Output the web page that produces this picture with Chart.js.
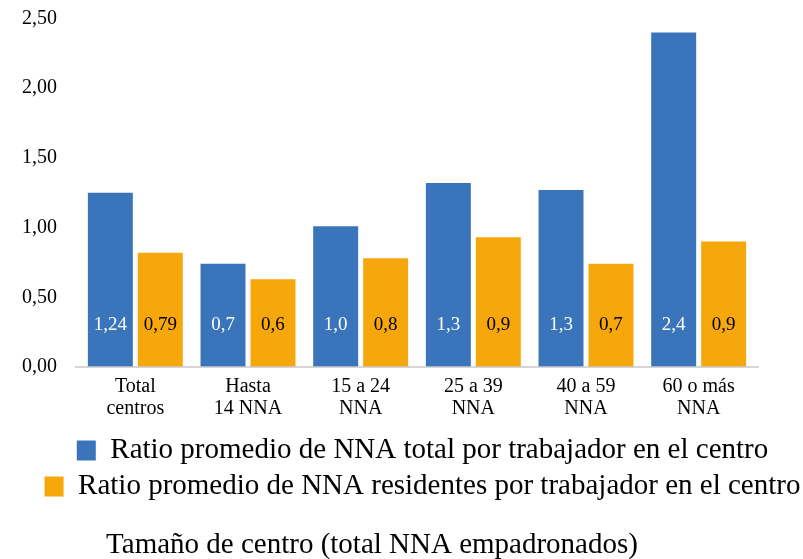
<!DOCTYPE html>
<html>
<head>
<meta charset="utf-8">
<script src="https://cdn.jsdelivr.net/npm/chart.js@4/dist/chart.umd.min.js"></script>
<style>
  html, body { margin: 0; padding: 0; background: #fff; }
  #wrap { width: 803px; height: 559px; }
</style>
</head>
<body>
<div id="wrap"><canvas id="chart" width="803" height="559"></canvas></div>
<script>
// data
const categories = [['Total', 'centros'], ['Hasta', '14 NNA'], ['15 a 24', 'NNA'], ['25 a 39', 'NNA'], ['40 a 59', 'NNA'], ['60 o más', 'NNA']];
const totalRatio = [1.25, 0.74, 1.01, 1.32, 1.27, 2.40];
const residentRatio = [0.82, 0.63, 0.78, 0.93, 0.74, 0.90];
const totalLabels = ['1,24', '0,7', '1,0', '1,3', '1,3', '2,4'];
const residentLabels = ['0,79', '0,6', '0,8', '0,9', '0,7', '0,9'];
const yTicks = [0, 0.5, 1, 1.5, 2, 2.5];
const seriesNames = ['Ratio promedio de NNA total por trabajador en el centro', 'Ratio promedio de NNA residentes por trabajador en el centro'];
const axisTitle = 'Tamaño de centro (total NNA empadronados)';

const FONT = "'Liberation Serif', 'DejaVu Serif', serif";
const BLUE = '#3A74BA';
const ORANGE = '#F5A70C';

// labels inside the bars, near the base
const barLabels = {
  id: 'barLabels',
  afterDatasetsDraw(chart) {
    const ctx = chart.ctx;
    const texts = [totalLabels, residentLabels];
    const colors = ['#ffffff', '#000000'];
    ctx.save();
    ctx.font = '19px ' + FONT;
    ctx.textAlign = 'center';
    ctx.textBaseline = 'middle';
    chart.data.datasets.forEach((ds, i) => {
      chart.getDatasetMeta(i).data.forEach((bar, j) => {
        ctx.fillStyle = colors[i];
        ctx.fillText(texts[i][j], bar.x, bar.base - 42);
      });
    });
    ctx.restore();
  }
};

// baseline, axis title under the legend, legend shifted right a bit
const extras = {
  id: 'extras',
  afterLayout(chart) {
    chart.legend.left = 42;
  },
  afterDraw(chart) {
    const ctx = chart.ctx;
    const area = chart.chartArea;
    const y0 = chart.scales.y.getPixelForValue(0);
    ctx.save();
    ctx.strokeStyle = '#C8C8C8';
    ctx.lineWidth = 1.5;
    ctx.beginPath();
    ctx.moveTo(area.left - 4, y0);
    ctx.lineTo(area.right + 4, y0);
    ctx.stroke();
    ctx.fillStyle = '#000';
    ctx.font = '29px ' + FONT;
    ctx.textAlign = 'center';
    ctx.textBaseline = 'alphabetic';
    ctx.fillText(axisTitle, 372, 553);
    ctx.restore();
  }
};

new Chart(document.getElementById('chart'), {
  type: 'bar',
  data: {
    labels: categories,
    datasets: [{
      label: seriesNames[0],
      data: totalRatio,
      backgroundColor: BLUE,
      borderWidth: 0,
      categoryPercentage: 0.887,
      barPercentage: 0.9
    }, {
      label: seriesNames[1],
      data: residentRatio,
      backgroundColor: ORANGE,
      borderWidth: 0,
      categoryPercentage: 0.887,
      barPercentage: 0.9
    }]
  },
  options: {
    responsive: false,
    animation: false,
    layout: { padding: { top: 18.5, right: 0, bottom: 48, left: 0 } },
    plugins: {
      tooltip: { enabled: false },
      legend: {
        position: 'bottom',
        labels: {
          boxWidth: 19,
          boxHeight: 20,
          padding: 7,
          color: '#000',
          font: { family: FONT, size: 29 }
        }
      }
    },
    scales: {
      x: {
        grid: { display: false, drawTicks: false },
        border: { display: false },
        ticks: {
          color: '#000',
          padding: 9,
          maxRotation: 0,
          font: { family: FONT, size: 20, lineHeight: 1.1 }
        }
      },
      y: {
        min: 0,
        max: 2.5,
        afterFit(scale) { scale.width = 79; },
        afterBuildTicks(scale) { scale.ticks = yTicks.map(v => ({ value: v })); },
        grid: { display: false, drawTicks: true, tickLength: 22 },
        border: { display: false },
        ticks: {
          color: '#000',
          padding: 0,
          font: { family: FONT, size: 20 },
          callback: v => v.toFixed(2).replace('.', ',')
        }
      },
      // empty right margin
      y2: {
        position: 'right',
        min: 0,
        max: 2.5,
        afterFit(scale) { scale.width = 48; },
        grid: { display: false, drawTicks: false },
        border: { display: false },
        ticks: { display: false }
      }
    }
  },
  plugins: [barLabels, extras]
});
</script>
</body>
</html>
